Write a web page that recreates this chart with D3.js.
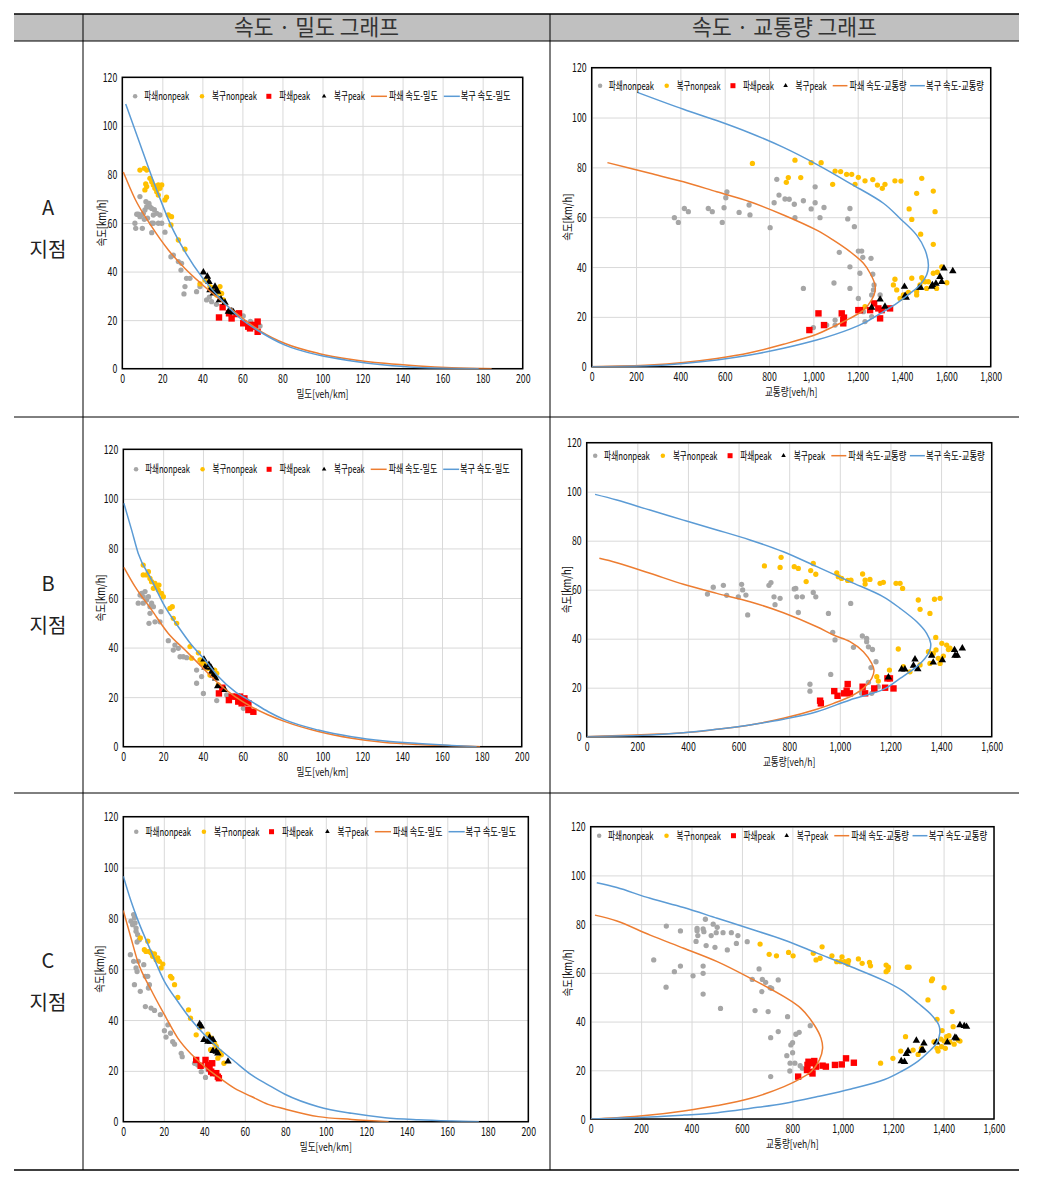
<!DOCTYPE html>
<html><head><meta charset="utf-8">
<script src="https://cdn.jsdelivr.net/npm/d3@7"></script>
<style>body{margin:0;background:#fff}svg{display:block}</style>
</head><body>
<svg id="c" width="1058" height="1179"></svg>
<script>
// ---------- labels ----------
const headerLabels = ['속도 · 밀도 그래프', '속도 · 교통량 그래프'];
const siteLabels = ['A', 'B', 'C'];
const siteSuffix = '지점';
const legendDensity = ['파쇄nonpeak', '복구nonpeak', '파쇄peak', '복구peak', '파쇄 속도-밀도', '복구 속도-밀도'];
const legendFlow = ['파쇄nonpeak', '복구nonpeak', '파쇄peak', '복구peak', '파쇄 속도-교통량', '복구 속도-교통량'];
const titleDensity = '밀도[veh/km]';
const titleFlow = '교통량[veh/h]';
const titleSpeed = '속도[km/h]';
const speedTicks = [0, 20, 40, 60, 80, 100, 120];
const densityTicks = [0, 20, 40, 60, 80, 100, 120, 140, 160, 180, 200];
const flowTicksA = [0, 200, 400, 600, 800, 1000, 1200, 1400, 1600, 1800];
const flowTicksBC = [0, 200, 400, 600, 800, 1000, 1200, 1400, 1600];

// ---------- site A : speed-density ----------
const aKGray = [[6.3,59.9],[6.7,57.8],[7.2,63.6],[8.0,63.6],[8.8,70.9],[8.8,62.6],[9.7,63.3],[10.0,57.8],[10.5,64.0],[11.3,65.4],[11.8,68.8],[12.2,66.7],[13.0,66.7],[13.3,68.1],[13.8,66.7],[14.7,66.0],[14.7,59.9],[14.7,56.0],[15.5,63.3],[15.5,59.9],[17.2,64.0],[18.0,59.9],[18.8,63.3],[19.7,59.9],[21.3,56.2],[11.0,61.5],[12.6,62.0],[16.0,65.5],[24.3,46.1],[25.5,46.8],[28.0,44.1],[29.6,43.4],[29.3,40.6],[32.1,37.2],[33.8,37.2],[31.3,33.8],[30.8,30.8],[37.1,31.7],[38.8,33.8],[42.1,28.3],[43.5,29.5],[44.6,27.6],[47.0,26.5],[54.6,24.2],[58.0,22.5],[60.4,21.7],[64.0,19.5],[68.8,17.6]];
const aKYellow = [[8.8,81.8],[11.0,82.5],[12.2,81.8],[11.7,76.1],[12.2,75.0],[11.3,73.6],[13.8,78.4],[14.7,77.0],[15.5,75.7],[16.3,74.3],[17.2,75.0],[18.0,75.7],[18.8,74.3],[19.7,75.7],[17.2,72.9],[18.0,71.5],[21.3,69.5],[22.1,70.6],[23.0,63.3],[24.6,62.6],[24.3,59.2],[28.0,53.0],[31.3,49.2],[38.8,34.9],[41.3,36.5],[43.8,33.8],[46.3,32.4],[48.0,31.7],[49.6,31.0],[50.5,28.3],[44.6,33.4],[47.1,30.3],[48.8,33.8]];
const aKRed = [[48.3,21.1],[50.1,25.3],[53.3,22.8],[54.6,20.7],[57.1,22.5],[58.3,22.8],[60.4,18.7],[62.9,17.3],[63.8,16.6],[65.4,17.3],[67.6,19.4],[67.6,15.2],[66.3,18.0],[64.3,18.0]];
const aKBlack = [[40.5,39.7],[42.5,37.9],[43.3,35.8],[43.8,32.4],[45.5,31.0],[46.3,33.8],[47.1,32.4],[47.6,31.7],[48.5,28.3],[49.3,28.6],[51.3,27.2],[53.0,23.5],[54.6,23.5],[55.5,23.2]];
const aKOrange = [[0.5,81],[6.3,70],[14.7,58.5],[23,48.9],[31.3,41.3],[39.6,34.9],[48,29],[58,22.1],[69.6,15.2],[81.3,10.4],[98,6.3],[114.6,3.8],[131,2.2],[148,1.1],[164.5,0.4],[184.5,0]];
const aKBlue = [[1.7,109],[8,94.5],[17,74],[24.6,58.5],[31.3,48.2],[39.6,37.9],[48,29.7],[58,21.4],[69.6,14.8],[81.3,9.7],[98,5.6],[114.6,3.2],[131,1.5],[148,0.5],[164.5,0.1],[178,0]];

// ---------- site A : speed-flow ----------
const aQGray = [[373,59.8],[391,57.9],[418,63.5],[436,62.2],[526,63.5],[544,62.2],[589,57.9],[597,63.8],[605,67.8],[610,70.2],[665,61.9],[710,64.9],[714,60.9],[805,55.8],[823,65.8],[835,75.2],[845,68.9],[872,67.3],[891,67.2],[914,65.2],[917,59.8],[955,66.6],[990,63.3],[1008,65.8],[1008,72.2],[1030,59.8],[1048,63.9],[955,31.4],[1000,15.7],[1093,33.6],[1098,18.7],[1098,16.7],[1117,45.9],[1165,40.1],[1165,31.4],[1165,63.5],[1155,59.3],[1185,56.2],[1203,46.4],[1218,46.4],[1223,43.9],[1210,37.5],[1203,27.4],[1233,18.1],[1260,43.5],[1263,28.8],[1268,37.1],[1274,32.8],[1271,30.8],[1263,20.1],[1301,28.8],[1323,23.4],[1226,22.1],[1135,20.1],[1060,16.7]];
const aQYellow = [[725,81.6],[917,82.9],[887,75.9],[878,74.0],[943,75.9],[990,81.9],[1035,81.9],[1087,73.2],[1098,78.5],[1123,78.3],[1150,77.2],[1173,77.2],[1188,73.2],[1203,76.0],[1233,74.6],[1268,75.1],[1289,72.9],[1311,71.6],[1323,73.2],[1368,74.6],[1395,74.5],[1432,63.3],[1444,59.1],[1466,69.6],[1489,75.6],[1484,53.2],[1541,70.5],[1549,62.2],[1541,49.1],[1368,35.1],[1376,30.8],[1391,27.4],[1406,28.8],[1444,35.5],[1466,30.1],[1481,32.8],[1489,35.7],[1504,34.1],[1511,31.4],[1519,34.1],[1541,37.5],[1556,31.4],[1559,37.9],[1579,40.1],[1602,33.7],[1466,28.8],[1429,29.8],[1233,24.1],[1361,32.8],[1496,34.4]];
const aQRed = [[982,14.7],[1023,21.4],[1048,16.7],[1128,21.4],[1135,18.7],[1135,17.4],[1138,19.7],[1203,22.7],[1210,22.7],[1256,22.7],[1274,25.4],[1293,23.4],[1301,19.4],[1308,22.7],[1346,23.4]];
const aQBlack = [[1263,23.7],[1301,27.0],[1323,24.1],[1411,32.1],[1414,28.5],[1419,27.7],[1478,31.7],[1484,31.7],[1534,32.1],[1537,32.8],[1553,33.4],[1571,36.1],[1579,34.1],[1589,39.5],[1629,38.4]];
const aQOrange = [[71,81.9],[263,77.6],[414,74.2],[564,70.2],[714,66.2],[865,60.9],[1015,54.8],[1090,50.8],[1165,46.2],[1226,41.5],[1256,37.5],[1278,32.8],[1278,30.1],[1263,26.8],[1226,22.7],[1165,19.4],[1090,16.1],[1015,13.0],[865,9.0],[714,5.6],[564,3.3],[414,1.7],[263,0.7],[0,0]];
const aQBlue = [[206,110.1],[414,103.3],[564,98.8],[714,93.8],[865,88.0],[1015,81.2],[1165,73.6],[1316,65.6],[1391,59.5],[1466,52.8],[1504,46.8],[1519,40.8],[1511,36.8],[1481,32.8],[1436,29.4],[1376,25.4],[1316,22.1],[1241,18.1],[1165,15.1],[1015,10.7],[865,7.4],[714,4.7],[564,2.7],[414,1.3],[263,0.4],[0,0]];

// ---------- site B : speed-density ----------
const bKGray = [[7.5,57.9],[8.4,61.2],[9.2,61.9],[10.0,60.5],[10.0,57.9],[10.9,62.6],[11.7,59.2],[12.6,60.5],[12.9,49.8],[13.4,56.5],[13.4,53.8],[14.2,57.9],[15.1,56.5],[15.9,50.4],[18.4,50.4],[18.9,54.5],[22.6,42.8],[25.1,39.0],[25.9,41.0],[27.6,39.7],[28.5,36.3],[30.1,36.3],[31.8,35.9],[36.8,30.9],[36.8,25.6],[39.3,28.3],[40.2,21.5],[46.9,18.6],[51.9,20.9],[59.4,17.5],[60.3,15.5]];
const bKYellow = [[10.0,73.3],[10.0,69.3],[11.7,69.3],[12.6,70.6],[13.4,67.9],[14.2,66.6],[15.9,65.9],[15.1,63.9],[16.7,64.6],[17.6,63.2],[19.2,61.9],[20.1,60.5],[17.9,65.2],[23.4,55.8],[24.6,56.5],[25.1,51.8],[26.8,49.8],[33.5,40.4],[34.3,35.7],[37.7,37.9],[38.5,35.0],[39.3,33.6],[42.7,31.6],[43.5,28.9],[45.9,30.9],[46.0,28.3],[46.9,29.6],[47.7,24.9],[41.0,33.6]];
const bKRed = [[48.0,21.5],[49.7,23.8],[53.0,18.8],[54.4,20.2],[56.9,20.2],[57.7,18.2],[58.6,20.2],[59.4,17.5],[60.8,19.5],[61.1,18.2],[62.8,17.5],[62.8,14.8],[65.3,14.1]];
const bKBlack = [[40.5,35.2],[41.0,32.0],[43.0,33.0],[44.0,31.9],[44.4,30.3],[45.2,28.9],[46.4,27.6],[47.4,24.5],[51.0,22.9]];
const bKOrange = [[0.3,72.4],[5.9,64.6],[14.2,55.2],[22.6,45.7],[31,39],[39.3,32.3],[47.7,25.6],[56.1,20.2],[64.4,16.1],[72.8,12.8],[81.2,10.1],[97.9,6.1],[114.6,3.4],[131.4,1.7],[148.1,0.9],[164.9,0.4],[179.1,0]];
const bKBlue = [[0.3,98.2],[4.2,87.4],[7.5,78],[14.2,67.3],[20.9,56.5],[27.6,48.4],[34.3,41],[41,35],[47.7,28.3],[56.1,22.2],[64.4,18.2],[72.8,14.1],[81.2,10.8],[97.9,6.7],[114.6,4],[131.4,2.3],[148.1,1.3],[164.9,0.5],[177.4,0]];

// ---------- site B : speed-flow ----------
const bQGray = [[477,58.2],[500,61.0],[540,61.8],[553,57.7],[599,57.1],[612,62.2],[616,59.9],[629,57.8],[636,49.7],[720,61.8],[728,62.9],[740,57.1],[744,53.9],[764,56.5],[820,60.3],[826,60.5],[830,57.1],[836,50.7],[852,57.1],[895,58.9],[905,57.1],[882,21.4],[882,18.6],[955,50.3],[964,25.4],[972,42.6],[981,39.5],[1043,54.4],[1054,36.5],[1089,41.1],[1106,40.1],[1106,38.8],[1113,36.7],[1129,35.6],[1123,28.2],[1143,30.6],[1113,22.2],[1126,17.7],[1139,19.0],[1152,20.4],[1086,17.7]];
const bQYellow = [[702,69.7],[764,69.1],[768,73.2],[820,69.4],[836,68.7],[885,67.8],[895,70.7],[905,66.3],[867,63.3],[988,66.9],[994,65.3],[1007,64.6],[1031,63.8],[1044,63.9],[1090,66.4],[1100,63.9],[1100,62.3],[1119,64.2],[1159,62.6],[1172,63.0],[1222,62.6],[1238,62.6],[1248,60.5],[1310,55.8],[1317,52.0],[1356,50.3],[1374,56.1],[1396,56.5],[1379,40.5],[1231,35.8],[1196,27.2],[1277,26.5],[1251,28.6],[1317,29.3],[1350,34.7],[1369,34.0],[1380,35.4],[1403,38.1],[1422,37.4],[1429,35.6],[1389,32.0],[1409,32.9],[1146,24.5],[1152,22.7],[1356,29.9],[1435,36.1],[1396,29.9]];
const bQRed = [[922,14.7],[925,13.6],[978,18.6],[991,16.7],[1017,17.7],[1027,18.8],[1031,21.5],[1040,17.7],[1090,20.4],[1100,17.7],[1136,19.7],[1179,20.0],[1188,23.8],[1198,23.8],[1212,19.7]];
const bQBlack = [[1192,24.2],[1244,27.5],[1257,27.5],[1291,29.0],[1297,31.6],[1308,27.6],[1363,33.1],[1369,30.3],[1405,31.3],[1453,35.4],[1455,33.1],[1464,33.1],[1484,36.1]];
const bQOrange = [[50,72.8],[119,71],[250,66.7],[382,62.2],[514,58.5],[645,55.1],[777,50.6],[909,44.9],[975,41.5],[1040,38.8],[1093,34.7],[1126,29.9],[1135,27.2],[1126,23.8],[1093,19.7],[1040,16.3],[975,13.6],[909,11.2],[777,7.5],[645,4.8],[514,3.0],[382,1.6],[0,0]];
const bQBlue = [[33,98.9],[119,96.6],[250,92.5],[382,88.4],[514,84.4],[645,80.3],[777,75.5],[909,69.4],[1040,63.3],[1172,57.1],[1238,52.4],[1304,46.9],[1343,42.2],[1359,38.1],[1356,35.4],[1337,32],[1304,28.6],[1238,23.8],[1172,19.3],[1040,15],[909,10.2],[777,7.1],[645,4.8],[514,3.0],[382,1.6],[250,0.7],[0,0]];

// ---------- site C : speed-density ----------
const cKGray = [[3.5,65.7],[3.8,78.9],[4.6,77.5],[5.1,81.5],[5.5,80.2],[5.8,78.2],[6.3,76.2],[6.3,74.9],[7.1,73.6],[6.8,70.7],[7.9,71.6],[5.1,63.1],[5.5,53.9],[6.3,60.5],[6.8,59.1],[7.4,63.1],[8.4,51.3],[10.1,61.8],[10.9,57.2],[12.1,57.2],[12.4,52.6],[12.9,53.9],[10.9,45.3],[13.7,44.7],[15.4,43.8],[18.3,42.1],[20.3,35.8],[21.1,33.3],[22.0,38.1],[23.3,34.8],[24.4,31.5],[25.3,30.5],[28.6,26.9],[29.1,25.6],[35.2,23.0],[36.8,22.3],[38.5,19.7],[40.6,17.4],[41.8,20.4]];
const cKYellow = [[8.4,72.3],[10.4,67.7],[11.2,67.0],[12.1,71.0],[12.9,67.0],[13.7,66.4],[14.5,65.1],[15.4,66.0],[16.2,63.7],[17.0,64.4],[17.8,63.1],[18.7,60.5],[19.5,62.0],[23.3,57.2],[24.0,56.5],[25.3,53.9],[26.9,48.9],[32.2,44.0],[33.2,40.7],[36.0,34.2],[37.7,37.1],[41.8,34.4],[43.4,32.9],[45.1,30.9],[45.9,29.6],[47.6,27.6],[46.7,25.0],[48.4,26.3],[49.7,23.0],[43.1,28.3]];
const cKRed = [[36.0,24.3],[38.2,22.0],[40.6,24.3],[41.8,22.3],[42.6,21.0],[43.9,23.0],[44.3,19.1],[45.9,19.1],[46.7,17.7],[47.2,17.1],[43.4,19.7]];
const cKBlack = [[37.7,38.4],[38.5,37.5],[39.8,32.2],[41.8,31.5],[42.6,33.1],[43.1,31.5],[44.3,32.2],[44.3,27.9],[45.9,27.6],[46.7,26.9],[51.7,23.7]];
const cKOrange = [[0,83.1],[3.8,72.3],[7.1,63.1],[13.7,51.9],[20.3,42.1],[26.9,32.9],[33.5,26.6],[40.1,21.7],[46.7,17.7],[55,13.1],[63.3,9.9],[71.5,6.8],[79.8,5.0],[96.3,2.0],[112.8,0.9],[131,0]];
const cKBlue = [[0,96.6],[3.8,86.8],[7.1,79.5],[13.7,67],[20.3,55.2],[26.9,47.3],[33.5,40.1],[40.1,34.2],[46.7,29.2],[55,23.7],[63.3,18.4],[71.5,14.5],[79.8,10.8],[96.3,5.9],[112.8,3.3],[129.3,1.6],[145.8,0.8],[162.3,0.3],[175.6,0]];

// ---------- site C : speed-flow ----------
const cQGray = [[250,65.3],[300,79.2],[299,54.1],[332,60.5],[356,77.2],[356,62.8],[406,58.8],[422,78.3],[422,77.3],[418,72.9],[425,75.3],[446,78.0],[449,76.9],[446,62.8],[446,59.8],[446,51.3],[458,71.2],[455,82.0],[478,75.3],[486,80.0],[498,76.5],[493,70.5],[502,78.7],[525,76.5],[515,45.4],[542,69.4],[558,76.5],[578,72.1],[584,75.3],[621,72.8],[641,57.3],[652,44.5],[668,61.6],[681,57.3],[679,52.3],[694,56.1],[704,44.1],[712,53.9],[718,53.6],[714,33.4],[714,17.4],[744,35.9],[744,57.1],[781,42.0],[794,30.4],[801,31.3],[801,27.2],[778,26.0],[791,22.9],[790,19.7],[814,34.8],[827,35.6],[871,38.3],[810,22.9],[831,21.9],[840,20.8]];
const cQYellow = [[672,71.8],[708,67.6],[737,67.0],[785,68.4],[803,67.0],[883,68.0],[894,65.3],[918,70.7],[910,66.0],[957,67.0],[976,64.6],[991,64.6],[997,66.6],[1007,64.6],[1020,63.6],[1023,65.0],[1062,65.7],[1077,63.9],[1106,64.3],[1110,62.9],[1172,63.2],[1179,61.2],[1181,62.3],[1172,60.5],[1256,62.3],[1263,62.3],[1338,48.9],[1352,56.8],[1356,57.5],[1402,53.9],[1374,40.9],[1394,36.3],[1434,44.1],[1438,37.9],[1249,33.8],[1279,28.3],[1230,27.9],[1199,24.9],[1150,22.9],[1299,26.5],[1312,29.0],[1362,31.7],[1374,29.0],[1378,27.9],[1389,32.8],[1402,32.0],[1412,33.8],[1421,34.2],[1425,31.7],[1442,30.7],[1458,32.4],[1465,32.0],[1392,29.7],[1407,29.0]];
const cQRed = [[823,17.4],[858,20.1],[864,23.5],[874,19.4],[880,22.9],[887,23.8],[894,21.5],[880,18.7],[860,22.2],[920,21.9],[933,21.5],[969,22.2],[996,22.4],[1013,24.9],[1044,23.1]];
const cQBlack = [[1232,23.8],[1245,23.5],[1252,26.7],[1259,27.9],[1292,32.2],[1312,28.1],[1318,28.3],[1322,31.1],[1372,31.5],[1415,31.5],[1445,33.4],[1451,33.1],[1465,38.6],[1482,38.2],[1491,37.9]];
const cQOrange = [[17,83.7],[104,81.3],[236,75.5],[369,70.1],[502,64.6],[635,57.7],[767,50.2],[834,45.4],[887,38.6],[914,33.1],[920,29.0],[907,24.2],[874,19.4],[834,16.7],[767,13.3],[635,8.5],[502,5.5],[369,3.3],[236,1.6],[104,0.5],[0,0]];
const cQBlue = [[24,97],[104,95],[236,90.6],[369,86.8],[502,82.4],[635,78],[767,73.5],[900,68],[1033,62.5],[1166,56.7],[1232,53],[1299,47.5],[1352,42.7],[1381,38.6],[1385,35.2],[1372,31.1],[1338,27.3],[1299,23.8],[1232,19.5],[1166,16.2],[1033,12.3],[900,9.2],[767,6.4],[635,4.4],[502,2.6],[369,1.6],[236,0.8],[0,0]];

// ---------- layout ----------
const COL = {gray:'#a6a6a6', yellow:'#ffc000', red:'#ff0000', black:'#000000', orange:'#ed7d31', blue:'#5b9bd5'};
const svg = d3.select('#c');
const TFONT = '"Liberation Sans Narrow","Noto Sans CJK KR",sans-serif';
const KFONT = '"Noto Sans CJK KR",sans-serif';

// table
const T = {x0:14, x1:1019, xSplit1:83, xSplit2:550, top:14, headBottom:41, rows:[41,417,793,1170]};
svg.append('rect').attr('x',T.x0).attr('y',T.top).attr('width',T.x1-T.x0).attr('height',T.headBottom-T.top).attr('fill','#c0c0c0');
function hline(y,w){svg.append('line').attr('x1',T.x0).attr('x2',T.x1).attr('y1',y).attr('y2',y).attr('stroke','#000').attr('stroke-width',w);}
[T.xSplit1,T.xSplit2].forEach(x=>svg.append('line').attr('x1',x).attr('x2',x).attr('y1',T.top).attr('y2',T.rows[3]).attr('stroke','#000').attr('stroke-width',1));
hline(T.top,1.5); hline(T.headBottom,1); hline(T.rows[1],1); hline(T.rows[2],1); hline(T.rows[3],1.5);
const headCx = [(T.xSplit1+T.xSplit2)/2, (T.xSplit2+T.x1)/2];
headerLabels.forEach((t,i)=>svg.append('text').attr('x',headCx[i]).attr('y',27.5).attr('dy','0.36em').attr('text-anchor','middle')
  .attr('font-family',KFONT).attr('font-size',21.5).attr('fill','#333').text(t));
siteLabels.forEach((s,i)=>{
  const cy=(T.rows[i]+T.rows[i+1])/2;
  svg.append('text').attr('x',48).attr('y',cy-21).attr('dy','0.35em').attr('text-anchor','middle').attr('font-family',KFONT).attr('font-size',20).attr('fill','#222').text(s);
  svg.append('text').attr('x',48).attr('y',cy+21).attr('dy','0.35em').attr('text-anchor','middle').attr('font-family',KFONT).attr('font-size',20).attr('fill','#222').text(siteSuffix);
});

function condense(sel,f){sel.each(function(){const L=this.getComputedTextLength();if(L>0){d3.select(this).attr('textLength',L*f).attr('lengthAdjust','spacingAndGlyphs');}});}

const legendLayouts = {
  density:{mk:[0.032,0.199,0.366,0.504], ln:[0.621,0.803], lnLen:0.04, tx:[0.055,0.224,0.392,0.529,0.666,0.845], tw:[0.112,0.112,0.077,0.077,0.122,0.125]},
  flow:{mk:[0.021,0.188,0.354,0.486], ln:[0.604,0.798], lnLen:0.037, tx:[0.043,0.213,0.379,0.511,0.646,0.838], tw:[0.113,0.110,0.078,0.078,0.143,0.145]}
};

let clipId=0;
function drawChart(cfg){
  const {x0,y0,x1,y1,xMax,xTicks,xFmt,legDy,kind,gray,yellow,red,black,orange,blue,ytOff} = cfg;
  const g = svg.append('g');
  const x = d3.scaleLinear().domain([0,xMax]).range([x0,x1]);
  const y = d3.scaleLinear().domain([0,120]).range([y1,y0]);
  // grid
  g.append('g').attr('transform',`translate(0,${y1})`).call(d3.axisBottom(x).tickValues(xTicks).tickSize(-(y1-y0)).tickFormat(''))
    .call(s=>{s.select('.domain').remove();s.selectAll('line').attr('stroke','#d9d9d9').attr('stroke-width',1);});
  g.append('g').attr('transform',`translate(${x0},0)`).call(d3.axisLeft(y).tickValues(speedTicks).tickSize(-(x1-x0)).tickFormat(''))
    .call(s=>{s.select('.domain').remove();s.selectAll('line').attr('stroke','#d9d9d9').attr('stroke-width',1);});
  // tick labels
  const xa = g.append('g').attr('transform',`translate(0,${y1})`).call(d3.axisBottom(x).tickValues(xTicks).tickSize(0).tickPadding(5).tickFormat(xFmt));
  xa.select('.domain').remove();
  xa.selectAll('text').attr('font-family',TFONT).attr('font-size',12.5).attr('fill','#111');
  condense(xa.selectAll('text'),0.7);
  const ya = g.append('g').attr('transform',`translate(${x0},0)`).call(d3.axisLeft(y).tickValues(speedTicks).tickSize(0).tickPadding(5));
  ya.select('.domain').remove();
  ya.selectAll('text').attr('font-family',TFONT).attr('font-size',12.5).attr('fill','#111');
  condense(ya.selectAll('text'),0.7);
  // axis titles
  const xt = g.append('text').attr('x',(x0+x1)/2).attr('y',y1+25).attr('dy','0.35em').attr('text-anchor','middle')
    .attr('font-family',TFONT).attr('font-size',11).attr('fill','#111').text(kind==='density'?titleDensity:titleFlow);
  condense(xt,0.78);
  const yt = g.append('text').attr('transform',`translate(${x0-ytOff},${(y0+y1)/2}) rotate(-90)`).attr('dy','0.35em').attr('text-anchor','middle')
    .attr('font-family',TFONT).attr('font-size',11.5).attr('fill','#111').text(titleSpeed);
  condense(yt,0.82);
  // frame
  g.append('rect').attr('x',x0).attr('y',y0).attr('width',x1-x0).attr('height',y1-y0).attr('fill','none').attr('stroke','#000').attr('stroke-width',1.5);
  // clip
  const cid='clip'+(clipId++);
  g.append('clipPath').attr('id',cid).append('rect').attr('x',x0).attr('y',y0).attr('width',x1-x0).attr('height',y1-y0);
  const pg = g.append('g').attr('clip-path',`url(#${cid})`);
  const circ = d3.symbol(d3.symbolCircle).size(22);
  const tri = d3.symbol(d3.symbolTriangle).size(24);
  pg.selectAll('.g').data(gray).join('path').attr('d',circ).attr('transform',d=>`translate(${x(d[0])},${y(d[1])})`).attr('fill',COL.gray);
  pg.selectAll('.y').data(yellow).join('path').attr('d',circ).attr('transform',d=>`translate(${x(d[0])},${y(d[1])})`).attr('fill',COL.yellow);
  pg.selectAll('.r').data(red).join('rect').attr('x',d=>x(d[0])-3.2).attr('y',d=>y(d[1])-3.2).attr('width',6.4).attr('height',6.4).attr('fill',COL.red);
  pg.selectAll('.b').data(black).join('path').attr('d',tri).attr('transform',d=>`translate(${x(d[0])},${y(d[1])})`).attr('fill',COL.black);
  const curve = kind==='density'? d3.curveMonotoneX : d3.curveCatmullRom.alpha(0.5);
  const line = d3.line().x(d=>x(d[0])).y(d=>y(d[1])).curve(curve);
  pg.append('path').datum(orange).attr('d',line).attr('fill','none').attr('stroke',COL.orange).attr('stroke-width',1.5);
  pg.append('path').datum(blue).attr('d',line).attr('fill','none').attr('stroke',COL.blue).attr('stroke-width',1.5);
  // legend
  const L = legendLayouts[kind], w = x1-x0, ly = y0+legDy;
  const labels = kind==='density'?legendDensity:legendFlow;
  g.append('path').attr('d',d3.symbol(d3.symbolCircle).size(16)).attr('transform',`translate(${x0+L.mk[0]*w},${ly})`).attr('fill',COL.gray);
  g.append('path').attr('d',d3.symbol(d3.symbolCircle).size(16)).attr('transform',`translate(${x0+L.mk[1]*w},${ly})`).attr('fill',COL.yellow);
  g.append('rect').attr('x',x0+L.mk[2]*w-2.5).attr('y',ly-2.5).attr('width',5).attr('height',5).attr('fill',COL.red);
  g.append('path').attr('d',d3.symbol(d3.symbolTriangle).size(9)).attr('transform',`translate(${x0+L.mk[3]*w},${ly})`).attr('fill',COL.black);
  [COL.orange,COL.blue].forEach((c,i)=>g.append('line').attr('x1',x0+L.ln[i]*w).attr('x2',x0+(L.ln[i]+L.lnLen)*w).attr('y1',ly).attr('y2',ly).attr('stroke',c).attr('stroke-width',1.5));
  labels.forEach((t,i)=>g.append('text').attr('x',x0+L.tx[i]*w).attr('y',ly).attr('dy','0.35em')
    .attr('font-family',TFONT).attr('font-size',11).attr('fill','#000')
    .attr('textLength',L.tw[i]*w).attr('lengthAdjust','spacingAndGlyphs').text(t));
}

const fmtInt = d3.format('d'), fmtComma = d3.format(',');
const charts = [
  {x0:122.3,y0:77.3,x1:522.7,y1:368.7,xMax:200,xTicks:densityTicks,xFmt:fmtInt,legDy:19,kind:'density',ytOff:20,gray:aKGray,yellow:aKYellow,red:aKRed,black:aKBlack,orange:aKOrange,blue:aKBlue},
  {x0:591.7,y0:67.7,x1:990.7,y1:366.7,xMax:1800,xTicks:flowTicksA,xFmt:fmtComma,legDy:18,kind:'flow',ytOff:24,gray:aQGray,yellow:aQYellow,red:aQRed,black:aQBlack,orange:aQOrange,blue:aQBlue},
  {x0:123.3,y0:449.3,x1:521.7,y1:746.7,xMax:200,xTicks:densityTicks,xFmt:fmtInt,legDy:20,kind:'density',ytOff:22,gray:bKGray,yellow:bKYellow,red:bKRed,black:bKBlack,orange:bKOrange,blue:bKBlue},
  {x0:586.7,y0:442.7,x1:991.7,y1:736.7,xMax:1600,xTicks:flowTicksBC,xFmt:fmtComma,legDy:13,kind:'flow',ytOff:20,gray:bQGray,yellow:bQYellow,red:bQRed,black:bQBlack,orange:bQOrange,blue:bQBlue},
  {x0:123.3,y0:816.7,x1:528.3,y1:1121.7,xMax:200,xTicks:densityTicks,xFmt:fmtInt,legDy:15,kind:'density',ytOff:23,gray:cKGray,yellow:cKYellow,red:cKRed,black:cKBlack,orange:cKOrange,blue:cKBlue},
  {x0:590.7,y0:826.7,x1:994,y1:1119,xMax:1600,xTicks:flowTicksBC,xFmt:fmtComma,legDy:9,kind:'flow',ytOff:23,gray:cQGray,yellow:cQYellow,red:cQRed,black:cQBlack,orange:cQOrange,blue:cQBlue}
];
charts.forEach(drawChart);
</script>
</body></html>
